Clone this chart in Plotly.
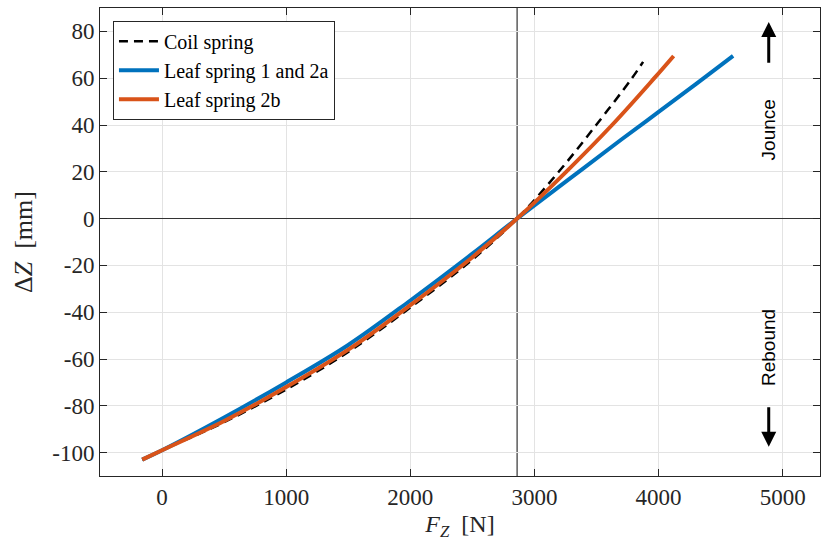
import plotly.graph_objects as go

# ---- data ----
coil_x = [-160, 0, 500, 1000, 1500, 2000, 2500, 2860, 3195, 3497, 3785, 3875]
coil_y = [-103, -99, -87, -73, -57, -38, -17.5, 0, 20, 40, 60, 67]

leaf1_x = [-160, 0, 500, 1000, 1500, 2000, 2500, 2860, 3300, 3700, 4000, 4300, 4600]
leaf1_y = [-103, -99, -85, -70, -54, -35, -15, 0, 17.7, 33.8, 45.6, 57.5, 69.5]

leaf2b_x = [-160, 0, 500, 1000, 1500, 2000, 2500, 2860, 3255, 3625, 3965, 4121]
leaf2b_y = [-103, -99, -86.5, -72, -56, -37, -16.5, 0, 20, 40, 60, 69.5]

static_load = 2860

x_ticks = [0, 1000, 2000, 3000, 4000, 5000]
y_ticks = [80, 60, 40, 20, 0, -20, -40, -60, -80, -100]

serif = "Liberation Serif, Times New Roman, serif"
sans = "Liberation Sans, Arial, sans-serif"
axis_col = "#262626"
grid_col = "#e3e3e3"

fig = go.Figure()
fig.add_trace(go.Scatter(x=coil_x, y=coil_y, mode="lines", name="Coil spring",
                         line=dict(color="black", width=2.5, dash="9px,6px", shape="spline")))
fig.add_trace(go.Scatter(x=leaf1_x, y=leaf1_y, mode="lines", name="Leaf spring 1 and 2a",
                         line=dict(color="#0072BD", width=4, shape="spline")))
fig.add_trace(go.Scatter(x=leaf2b_x, y=leaf2b_y, mode="lines", name="Leaf spring 2b",
                         line=dict(color="#D95319", width=4, shape="spline")))

# static load vertical line
fig.add_shape(type="line", xref="x", yref="paper", x0=static_load, x1=static_load, y0=0, y1=1,
              line=dict(color="#333333", width=1.2), layer="below")

# arrows and text
fig.add_annotation(x=4887, y=84, ax=4887, ay=66, xref="x", yref="y", axref="x", ayref="y",
                   text="", showarrow=True, arrowhead=2, arrowsize=1, arrowwidth=3, arrowcolor="black")
fig.add_annotation(x=4887, y=-97.5, ax=4887, ay=-80, xref="x", yref="y", axref="x", ayref="y",
                   text="", showarrow=True, arrowhead=2, arrowsize=1, arrowwidth=3, arrowcolor="black")
fig.add_annotation(x=4887, y=38, xref="x", yref="y", text="Jounce", showarrow=False,
                   textangle=-90, font=dict(family=sans, size=19, color="black"))
fig.add_annotation(x=4887, y=-55, xref="x", yref="y", text="Rebound", showarrow=False,
                   textangle=-90, font=dict(family=sans, size=19, color="black"))

fig.update_layout(
    width=823, height=541,
    margin=dict(l=100, r=3, t=8, b=65),
    plot_bgcolor="white", paper_bgcolor="white",
    font=dict(family=serif, size=23, color=axis_col),
    showlegend=True,
    legend=dict(x=0.018, y=0.973, xanchor="left", yanchor="top",
                bgcolor="white", bordercolor=axis_col, borderwidth=1,
                font=dict(family=serif, size=20, color="black"),
                tracegroupgap=0, itemwidth=40),
    xaxis=dict(range=[-500, 5300], tickvals=x_ticks, ticktext=[str(v) for v in x_ticks],
               showgrid=True, gridcolor=grid_col, zeroline=False, automargin=False,
               showline=True, linecolor=axis_col, linewidth=1, mirror="ticks",
               ticks="inside", ticklen=7, tickcolor=axis_col,
               tickfont=dict(family=serif, size=23, color=axis_col),
               title=dict(text="<i>F</i><sub><i>Z</i></sub>  [N]", standoff=13,
                          font=dict(family=serif, size=24, color=axis_col))),
    yaxis=dict(range=[-110, 90], tickvals=y_ticks, ticktext=[str(v) for v in y_ticks],
               showgrid=True, gridcolor=grid_col, zeroline=True, zerolinecolor="#333333",
               zerolinewidth=1.2, automargin=False,
               showline=True, linecolor=axis_col, linewidth=1, mirror="ticks",
               ticks="inside", ticklen=7, tickcolor=axis_col,
               tickfont=dict(family=serif, size=23, color=axis_col),
               title=dict(text="Δ<i>Z</i>  [mm]", standoff=12,
                          font=dict(family=serif, size=26, color=axis_col))),
)

fig.write_html("out.html", config={"displayModeBar": False},
               post_script="document.body.style.margin='0';document.body.style.overflow='hidden';")
